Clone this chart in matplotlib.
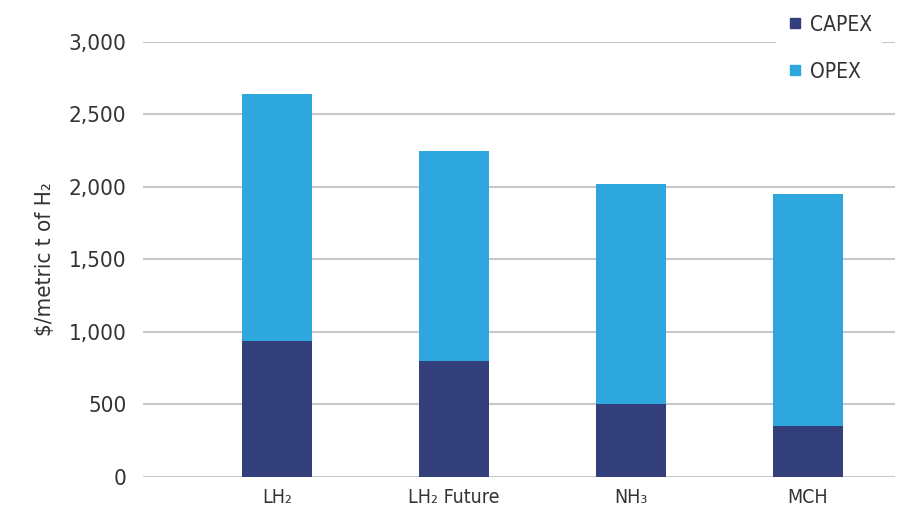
import matplotlib.pyplot as plt
from matplotlib.lines import Line2D

plt.rcParams['font.family'] = ['DejaVu Sans']
plt.rcParams['font.stretch'] = 'condensed'

categories = ['LH₂', 'LH₂ Future', 'NH₃', 'MCH']
capex = [940, 800, 505, 355]
opex = [1700, 1445, 1515, 1595]
yticks = [0, 500, 1000, 1500, 2000, 2500, 3000]

capex_color = '#323f7b'
opex_color = '#2ea7df'
text_color = '#333333'

fig = plt.figure(figsize=(9, 5.3), dpi=100)
ax = fig.add_axes([0.159, 0.100, 0.835, 0.821])

x = list(range(len(categories)))
ax.bar(x, capex, width=0.395, color=capex_color, zorder=3)
ax.bar(x, opex, width=0.395, bottom=capex, color=opex_color, zorder=3)

ax.set_ylim(0, 3000)
ax.set_xlim(-0.757, 3.49)
ax.set_yticks(yticks)
ax.set_yticklabels([f"{v:,}" for v in yticks], fontsize=16, color=text_color)
ax.set_xticks(x)
ax.set_xticklabels(categories, fontsize=14, color=text_color)
ax.tick_params(length=0, pad=8)
ax.tick_params(axis='y', pad=12)
ax.grid(axis='y', color='#c8c8c8', linewidth=1.5, zorder=0)
ax.set_axisbelow(True)
for s in ax.spines.values():
    s.set_visible(False)

ax.set_ylabel('$/metric t of H₂', fontsize=16, color=text_color, labelpad=10)

handles = [
    Line2D([], [], marker='s', linestyle='none', markersize=7, color=capex_color),
    Line2D([], [], marker='s', linestyle='none', markersize=7, color=opex_color),
]
leg = fig.legend(handles, ['CAPEX', 'OPEX'], loc='upper right',
                 bbox_to_anchor=(0.985, 1.0), frameon=True, fontsize=15,
                 labelspacing=1.3, handletextpad=0.3, handlelength=0.8,
                 borderpad=0.5, borderaxespad=0.2)
leg.get_frame().set_facecolor('white')
leg.get_frame().set_edgecolor('none')
leg.get_frame().set_alpha(1)
for t in leg.get_texts():
    t.set_color(text_color)

fig.savefig('out.png', dpi=100, facecolor='white')
